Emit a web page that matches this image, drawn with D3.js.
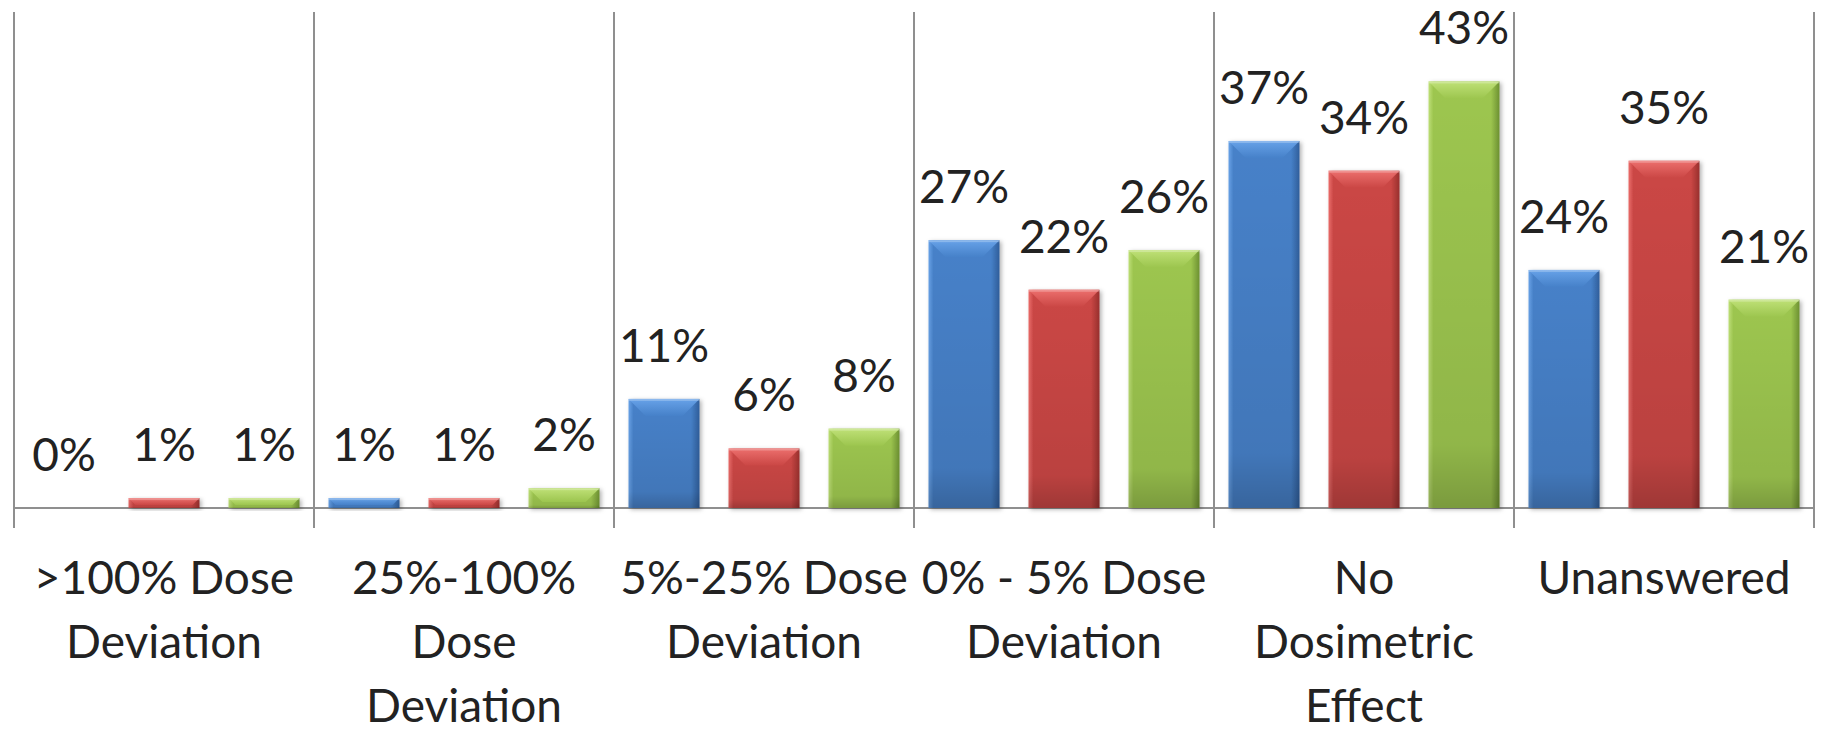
<!DOCTYPE html>
<html>
<head>
<meta charset="utf-8">
<script src="https://cdn.jsdelivr.net/npm/d3@7"></script>
<style>
  html, body { margin: 0; padding: 0; background: #ffffff; }
  svg { display: block; }
  text { font-family: Lato, "Open Sans", sans-serif; fill: #222222; }
</style>
</head>
<body>
<svg id="chart" width="1827" height="730"></svg>
<script>
// Category labels, one array of lines per category
const categories = [
  [">100% Dose", "Deviation"],
  ["25%-100%", "Dose", "Deviation"],
  ["5%-25% Dose", "Deviation"],
  ["0% - 5% Dose", "Deviation"],
  ["No", "Dosimetric", "Effect"],
  ["Unanswered"]
];
const categoryKeys = categories.map(c => c.join(" "));

const seriesNames = ["Series 1", "Series 2", "Series 3"];

// Percent of responses per category
const series1Values = [0, 1, 11, 27, 37, 24];
const series2Values = [1, 1, 6, 22, 34, 35];
const series3Values = [1, 2, 8, 26, 43, 21];

const seriesValues = [series1Values, series2Values, series3Values];

const palette = [
  { base: "#4681c9", light: "#69a3e8", dark: "#2f5e9b", top: "#6ba6ec" },
  { base: "#cb4745", light: "#ec6d6b", dark: "#982f2d", top: "#f07472" },
  { base: "#9dc64f", light: "#bfe078", dark: "#6d9131", top: "#c3e47c" }
];

const svg = d3.select("#chart");
const plotLeft = 14, plotRight = 1814, plotTop = 12, baseY = 508;

const x0 = d3.scaleBand().domain(categoryKeys).range([plotLeft, plotRight]).padding(0);
const x1 = d3.scaleBand().domain(seriesNames)
  .range([14.5, x0.bandwidth() - 14.5]).paddingInner(0.29).paddingOuter(0);
const y = d3.scaleLinear().domain([0, 50]).range([baseY, plotTop]);

// Gradients and shadow
const defs = svg.append("defs");
palette.forEach((p, i) => {
  const h = defs.append("linearGradient").attr("id", "body" + i)
    .attr("x1", 0).attr("x2", 1).attr("y1", 0).attr("y2", 0);
  h.append("stop").attr("offset", 0).attr("stop-color", p.light);
  h.append("stop").attr("offset", 0.07).attr("stop-color", p.base);
  h.append("stop").attr("offset", 0.88).attr("stop-color", p.base);
  h.append("stop").attr("offset", 1).attr("stop-color", p.dark);

  const t = defs.append("linearGradient").attr("id", "top" + i)
    .attr("x1", 0).attr("x2", 0).attr("y1", 0).attr("y2", 1);
  t.append("stop").attr("offset", 0).attr("stop-color", p.top);
  t.append("stop").attr("offset", 1).attr("stop-color", p.base);
});
const shade = defs.append("linearGradient").attr("id", "shade")
  .attr("x1", 0).attr("x2", 0).attr("y1", 0).attr("y2", 1);
shade.append("stop").attr("offset", 0).attr("stop-color", "#000").attr("stop-opacity", 0);
shade.append("stop").attr("offset", 0.85).attr("stop-color", "#000").attr("stop-opacity", 0.08);
shade.append("stop").attr("offset", 1).attr("stop-color", "#000").attr("stop-opacity", 0.22);

const f = defs.append("filter").attr("id", "drop")
  .attr("x", "-20%").attr("y", "-20%").attr("width", "150%").attr("height", "150%");
f.append("feDropShadow").attr("dx", 2).attr("dy", 1.5).attr("stdDeviation", 2)
  .attr("flood-color", "#000").attr("flood-opacity", 0.3);

// Axis lines: baseline and category separators
const grid = svg.append("g").attr("stroke", "#8f8f8f").attr("stroke-width", 2);
grid.append("line").attr("x1", plotLeft).attr("x2", plotRight).attr("y1", baseY).attr("y2", baseY);
const bounds = categoryKeys.map(k => x0(k)).concat([x0(categoryKeys[categoryKeys.length - 1]) + x0.bandwidth()]);
grid.selectAll("line.sep").data(bounds).join("line").attr("class", "sep")
  .attr("x1", d => d).attr("x2", d => d).attr("y1", plotTop).attr("y2", 528);

// Flatten data
const data = [];
categoryKeys.forEach((c, ci) => {
  seriesNames.forEach((s, si) => {
    data.push({ cat: c, series: s, si, value: seriesValues[si][ci] });
  });
});

const bars = svg.append("g").selectAll("g.bar").data(data).join("g").attr("class", "bar");

bars.each(function(d) {
  const g = d3.select(this);
  const x = x0(d.cat) + x1(d.series);
  const w = x1.bandwidth();
  const yt = y(d.value);
  const h = baseY - yt;
  if (h <= 0) return;
  g.append("rect").attr("x", x).attr("y", yt).attr("width", w).attr("height", h)
    .attr("fill", `url(#body${d.si})`).attr("filter", "url(#drop)");
  g.append("rect").attr("x", x).attr("y", yt).attr("width", w).attr("height", h)
    .attr("fill", "url(#shade)");
  const bd = Math.min(17, h * 0.7);
  g.append("polygon")
    .attr("points", [[x, yt], [x + w, yt], [x + w - bd, yt + bd], [x + bd, yt + bd]].map(p => p.join(",")).join(" "))
    .attr("fill", `url(#top${d.si})`).attr("opacity", 0.9);
  g.append("rect").attr("x", x).attr("y", yt).attr("width", w).attr("height", Math.min(2, h))
    .attr("fill", "#ffffff").attr("opacity", 0.25);
});

// Value labels
svg.append("g").selectAll("text.val").data(data).join("text").attr("class", "val")
  .attr("x", d => x0(d.cat) + x1(d.series) + x1.bandwidth() / 2)
  .attr("y", d => y(d.value) - 37)
  .attr("text-anchor", "middle")
  .attr("font-size", 46)
  .text(d => d.value + "%");

// Category labels
const catG = svg.append("g").selectAll("text.cat").data(categories).join("text").attr("class", "cat")
  .attr("text-anchor", "middle").attr("font-size", 46)
  .attr("x", (d, i) => x0(categoryKeys[i]) + x0.bandwidth() / 2)
  .attr("y", 594);
catG.selectAll("tspan").data(d => d).join("tspan")
  .attr("x", function() { return d3.select(this.parentNode).attr("x"); })
  .attr("dy", (d, i) => i === 0 ? 0 : 64)
  .text(d => d);
</script>
</body>
</html>
